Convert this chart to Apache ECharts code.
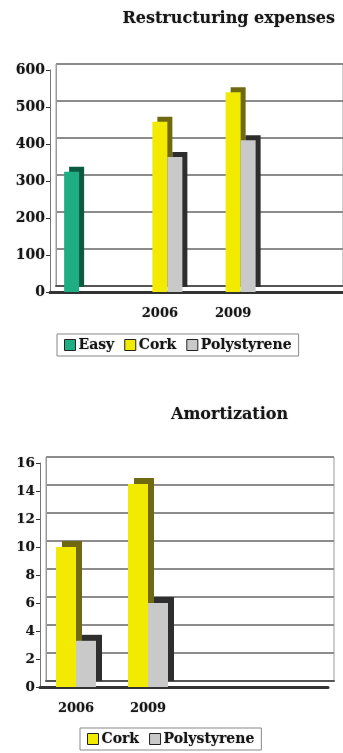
<!DOCTYPE html>
<html>
<head>
<meta charset="utf-8">
<script src="https://cdn.jsdelivr.net/npm/echarts@6/dist/echarts.min.js"></script>
<style>
  html, body { margin: 0; padding: 0; background: #ffffff; }
  #chart { width: 343px; height: 753px; }
</style>
</head>
<body>
<div id="chart"></div>
<script>
// Restructuring expenses
const restructCategories = ['', '2006', '2009', ''];
const easyRestruct = [325, null, null, null];
const corkRestruct = [null, 460, 540, null];
const polyRestruct = [null, 365, 410, null];
const restructAxis = { min: 0, max: 600, interval: 100 };

// Amortization
const amortCategories = ['2006', '2009', '', ''];
const corkAmort = [10, 14.5, null, null];
const polyAmort = [3.3, 6, null, null];
const amortAxis = { min: 0, max: 16, interval: 2 };

const FONT = 'DejaVu Serif';
const INK = '#161616';
const textBase = { fontFamily: FONT, fontWeight: 'bold', color: INK,
  textShadowColor: 'rgba(0,0,0,0.35)', textShadowBlur: 1.5 };

const colors = {
  easy: { face: '#1fae84', side: '#0c5a42' },
  cork: { face: '#f2ea00', side: '#6f6a12' },
  poly: { face: '#c9c9c9', side: '#2e2e2e' }
};

// flat face plus an offset dark block that reads as the side and top of a 3D bar
function barStyle(c, off) {
  return {
    color: c.face,
    shadowColor: c.side,
    shadowBlur: 0,
    shadowOffsetX: off,
    shadowOffsetY: -off
  };
}

// back plane = wall with gridlines, front plane = bars and labels
const grids = [
  { left: 56, top: 64, width: 297, height: 222, show: true, borderColor: '#9a9a9a', borderWidth: 1, backgroundColor: '#ffffff' },
  { left: 50, top: 70, width: 297, height: 222 },
  { left: 46, top: 457, width: 288, height: 224, show: true, borderColor: '#9a9a9a', borderWidth: 1, backgroundColor: '#ffffff' },
  { left: 40, top: 463, width: 288, height: 224 }
];

function backX(gi, cats) {
  return {
    type: 'category', gridIndex: gi, data: cats,
    axisLine: { show: true, lineStyle: { color: '#555', width: 2 } },
    axisTick: { show: false }, axisLabel: { show: false }, splitLine: { show: false }
  };
}
function backY(gi, a) {
  return {
    type: 'value', gridIndex: gi, min: a.min, max: a.max, interval: a.interval,
    axisLine: { show: true, lineStyle: { color: '#9a9a9a', width: 1 } },
    axisTick: { show: false }, axisLabel: { show: false },
    splitLine: { show: true, lineStyle: { color: '#8c8c8c', width: 2 } }
  };
}
function frontX(gi, cats, size) {
  return {
    type: 'category', gridIndex: gi, data: cats,
    axisLine: { show: true, lineStyle: { color: '#333', width: 3 } },
    axisTick: { show: false },
    axisLabel: Object.assign({ margin: 15, fontSize: size }, textBase),
    splitLine: { show: false }
  };
}
function frontY(gi, a, size) {
  return {
    type: 'value', gridIndex: gi, min: a.min, max: a.max, interval: a.interval,
    axisLine: { show: true, lineStyle: { color: '#777', width: 1 } },
    axisTick: { show: true, length: 4, lineStyle: { color: '#333' } },
    axisLabel: Object.assign({ margin: 5, fontSize: size }, textBase),
    splitLine: { show: false }
  };
}

function legendFor(names, left, top) {
  return {
    data: names, left: left, top: top, orient: 'horizontal',
    icon: 'rect', itemWidth: 11, itemHeight: 11, itemGap: 10, selectedMode: false,
    itemStyle: { borderColor: '#222', borderWidth: 1 },
    borderColor: '#888', borderWidth: 1, padding: [4, 7],
    textStyle: Object.assign({ fontSize: 14, padding: [0, 0, 0, -2] }, textBase)
  };
}

const option = {
  animation: false,
  backgroundColor: '#ffffff',
  title: [
    { text: 'Restructuring expenses', right: 3, top: 6,
      textStyle: Object.assign({ fontSize: 16 }, textBase) },
    { text: 'Amortization', left: 166, top: 402,
      textStyle: Object.assign({ fontSize: 16 }, textBase) }
  ],
  legend: [
    legendFor(['Easy', 'Cork', 'Polystyrene'], 57, 334),
    legendFor(['Cork', 'Polystyrene'], 80, 728)
  ],
  grid: grids,
  xAxis: [
    backX(0, restructCategories), frontX(1, restructCategories, 13),
    backX(2, amortCategories), frontX(3, amortCategories, 13)
  ],
  yAxis: [
    backY(0, restructAxis), frontY(1, restructAxis, 14),
    backY(2, amortAxis), frontY(3, amortAxis, 13.5)
  ],
  series: [
    { name: 'Easy', type: 'bar', xAxisIndex: 1, yAxisIndex: 1, data: easyRestruct,
      barWidth: 15, barGap: '0%', itemStyle: barStyle(colors.easy, 5) },
    { name: 'Cork', type: 'bar', xAxisIndex: 1, yAxisIndex: 1, data: corkRestruct,
      barWidth: 15, barGap: '0%', itemStyle: barStyle(colors.cork, 5) },
    { name: 'Polystyrene', type: 'bar', xAxisIndex: 1, yAxisIndex: 1, data: polyRestruct,
      barWidth: 15, barGap: '0%', itemStyle: barStyle(colors.poly, 5) },
    { name: 'Cork', type: 'bar', xAxisIndex: 3, yAxisIndex: 3, data: corkAmort,
      barWidth: 20, barGap: '0%', itemStyle: barStyle(colors.cork, 6) },
    { name: 'Polystyrene', type: 'bar', xAxisIndex: 3, yAxisIndex: 3, data: polyAmort,
      barWidth: 20, barGap: '0%', itemStyle: barStyle(colors.poly, 6) }
  ]
};

const chart = echarts.init(document.getElementById('chart'), null, { renderer: 'canvas' });
chart.setOption(option);
</script>
</body>
</html>
